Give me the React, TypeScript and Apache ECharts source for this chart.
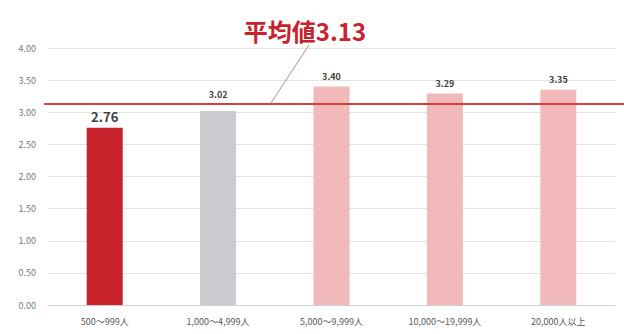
import React, { useEffect, useRef } from "react";
import * as echarts from "echarts";

const categories = ["500～999人", "1,000～4,999人", "5,000～9,999人", "10,000～19,999人", "20,000人以上"];
const values = [2.76, 3.02, 3.4, 3.29, 3.35];
const barColors = ["#c8232c", "#c9cbce", "#f2b9bb", "#f2b9bb", "#f2b9bb"];
const average = 3.13;
const titleText = "平均値3.13";
const yTicks = { min: 0, max: 4, interval: 0.5 };

export default function App() {
  const ref = useRef<HTMLDivElement>(null);
  useEffect(() => {
    if (!ref.current) return;
    const chart = echarts.init(ref.current, null, { renderer: "svg" });
    const font = "'Noto Sans CJK JP', 'Noto Sans', sans-serif";
    chart.setOption({
      animation: false,
      backgroundColor: "#ffffff",
      grid: { left: 48, right: 9, top: 48, bottom: 29 },
      xAxis: {
        type: "category",
        data: categories,
        axisTick: { show: false },
        axisLine: { lineStyle: { color: "#d0d0d0", width: 1 } },
        axisLabel: { fontSize: 9, color: "#595959", margin: 12, fontFamily: font },
      },
      yAxis: {
        type: "value",
        min: yTicks.min,
        max: yTicks.max,
        interval: yTicks.interval,
        axisLine: { show: false },
        axisTick: { show: false },
        splitLine: { lineStyle: { color: "#e3e3e3", width: 1 } },
        axisLabel: {
          fontSize: 9,
          color: "#7a7a7a",
          margin: 12,
          fontFamily: font,
          formatter: (v: number) => v.toFixed(2),
        },
      },
      series: [
        {
          type: "bar",
          barWidth: 36,
          data: values.map((v, i) => ({
            value: v,
            itemStyle: { color: barColors[i] },
            label: i === 0
              ? { fontSize: 13, distance: 5 }
              : { fontSize: 9, distance: i === 1 ? 12 : 6 },
          })),
          label: {
            show: true,
            position: "top",
            fontWeight: "bold",
            color: "#404040",
            fontFamily: font,
            formatter: (p: any) => p.value.toFixed(2),
          },
        },
      ],
    });
    const yAvg = chart.convertToPixel({ yAxisIndex: 0 }, average) as number;
    chart.setOption({
      graphic: [
        {
          type: "line",
          shape: { x1: 44, y1: yAvg, x2: 624, y2: yAvg },
          style: { stroke: "#d6403a", lineWidth: 2 },
          z: 100,
        },
        {
          type: "line",
          shape: { x1: 309, y1: 45, x2: 271, y2: yAvg - 1 },
          style: { stroke: "#b98a8a", lineWidth: 1 },
          z: 100,
        },
        {
          type: "text",
          x: 305,
          y: 30,
          style: {
            text: titleText,
            fontSize: 24,
            fontWeight: "bold",
            fill: "#c8232c",
            fontFamily: font,
            align: "center",
            verticalAlign: "middle",
          },
          z: 100,
        },
      ],
    });
    return () => chart.dispose();
  }, []);
  return <div ref={ref} style={{ position: "fixed", left: 0, top: 0, width: 624, height: 334 }} />;
}
